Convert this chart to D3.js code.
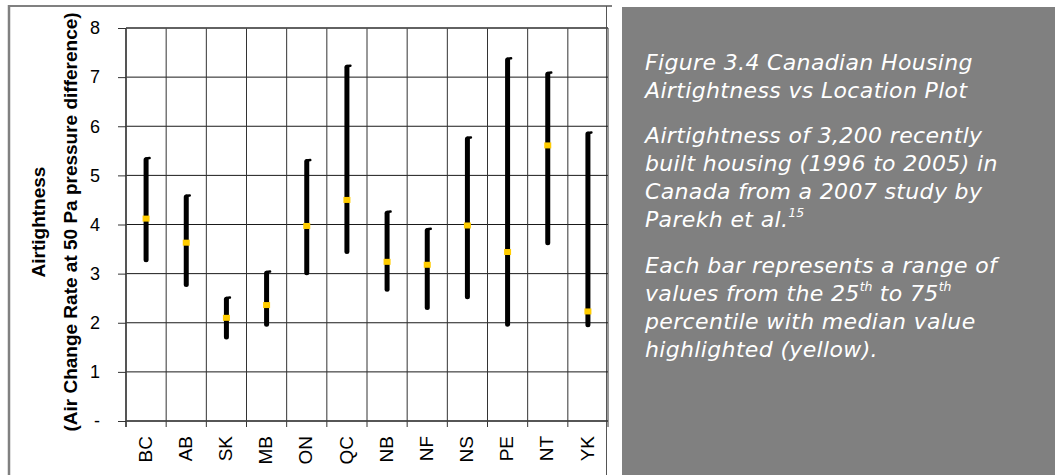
<!DOCTYPE html>
<html>
<head>
<meta charset="utf-8">
<script src="https://cdn.jsdelivr.net/npm/d3@7"></script>
<style>
  html, body { margin: 0; padding: 0; background: #ffffff; }
  svg { display: block; }
</style>
</head>
<body>
<svg id="chart" width="1055" height="475"></svg>
<script>
// ---- data ----
const categories = ["BC", "AB", "SK", "MB", "ON", "QC", "NB", "NF", "NS", "PE", "NT", "YK"];
const p25 =    [3.28, 2.78, 1.71, 1.97, 3.02, 3.45, 2.68, 2.31, 2.53, 1.97, 3.63, 1.96];
const p75 =    [5.32, 4.56, 2.48, 3.01, 5.28, 7.20, 4.23, 3.88, 5.74, 7.35, 7.06, 5.84];
const medians = [4.12, 3.63, 2.10, 2.36, 3.97, 4.50, 3.24, 3.18, 3.98, 3.44, 5.61, 2.23];
const yTicks = [0, 1, 2, 3, 4, 5, 6, 7, 8];
const yTickLabels = ["-", "1", "2", "3", "4", "5", "6", "7", "8"];
const yTitle = ["Airtightness", "(Air Change Rate at 50 Pa pressure difference)"];
const captionParagraphs = [
  [["Figure 3.4 Canadian Housing"], ["Airtightness vs Location Plot"]],
  [["Airtightness of 3,200 recently"], ["built housing (1996 to 2005) in"], ["Canada from a 2007 study by"], ["Parekh et al.", "15"]],
  [["Each bar represents a range of"], ["values from the 25", "th", " to 75", "th"], ["percentile with median value"], ["highlighted (yellow)."]]
];

// ---- layout ----
const svg = d3.select("#chart");
const plot = { left: 126, right: 608, top: 28, bottom: 421 };

const x = d3.scaleBand().domain(categories).range([plot.left, plot.right]).padding(0);
const y = d3.scaleLinear().domain([0, 8]).range([plot.bottom, plot.top]);

// outer chart frame
svg.append("line").attr("x1", 9).attr("x2", 9).attr("y1", 5).attr("y2", 475)
  .attr("stroke", "#808080").attr("stroke-width", 2.5);
svg.append("line").attr("x1", 8).attr("x2", 612).attr("y1", 6).attr("y2", 6)
  .attr("stroke", "#808080").attr("stroke-width", 2);
svg.append("line").attr("x1", 606.5).attr("x2", 606.5).attr("y1", 6).attr("y2", 475)
  .attr("stroke", "#555555").attr("stroke-width", 1);

// right grey panel
svg.append("rect").attr("x", 622).attr("y", 7).attr("width", 1055 - 622).attr("height", 475 - 7)
  .attr("fill", "#808080");

// horizontal gridlines
svg.append("g").selectAll("line").data(yTicks).join("line")
  .attr("x1", plot.left).attr("x2", plot.right)
  .attr("y1", d => y(d)).attr("y2", d => y(d))
  .attr("stroke", "#1a1a1a").attr("stroke-width", 1);

// vertical gridlines at category boundaries
const bounds = categories.map(c => x(c)).concat([plot.right]);
svg.append("g").selectAll("line").data(bounds).join("line")
  .attr("x1", d => d).attr("x2", d => d)
  .attr("y1", plot.top).attr("y2", plot.bottom)
  .attr("stroke", "#333333").attr("stroke-width", 1);

// x-axis tick marks below the axis
svg.append("g").selectAll("line").data(bounds).join("line")
  .attr("x1", d => d).attr("x2", d => d)
  .attr("y1", plot.bottom).attr("y2", plot.bottom + 6)
  .attr("stroke", "#333333").attr("stroke-width", 1);

// axis frame lines
svg.append("line").attr("x1", plot.left).attr("x2", plot.right).attr("y1", plot.bottom).attr("y2", plot.bottom)
  .attr("stroke", "#444").attr("stroke-width", 1.6);
svg.append("line").attr("x1", plot.left).attr("x2", plot.right).attr("y1", plot.top).attr("y2", plot.top)
  .attr("stroke", "#555").attr("stroke-width", 1.6);
svg.append("line").attr("x1", plot.left).attr("x2", plot.left).attr("y1", plot.top).attr("y2", plot.bottom + 6)
  .attr("stroke", "#444").attr("stroke-width", 1.6);

// y axis
const yAxis = d3.axisLeft(y)
  .tickValues(yTicks)
  .tickFormat((d, i) => yTickLabels[i])
  .tickSize(8)
  .tickPadding(18);
const gy = svg.append("g").attr("transform", `translate(${plot.left},0)`).call(yAxis);
gy.select(".domain").remove();
gy.selectAll(".tick line").attr("stroke", "#333").attr("stroke-width", 1);
gy.selectAll(".tick text")
  .attr("font-family", "'Liberation Sans', Arial, sans-serif")
  .attr("font-size", 18).attr("fill", "#000");

// x labels (rotated)
svg.append("g").selectAll("text").data(categories).join("text")
  .attr("transform", d => `translate(${x(d) + x.bandwidth() / 2 - 1},436) rotate(-90)`)
  .attr("text-anchor", "end")
  .attr("dy", "0.35em")
  .attr("font-family", "'Liberation Sans', Arial, sans-serif")
  .attr("font-size", 19).attr("fill", "#000")
  .text(d => d);

// y title
const titleX = [38, 70];
yTitle.forEach((t, i) => {
  svg.append("text")
    .attr("transform", `translate(${titleX[i]},222) rotate(-90)`)
    .attr("text-anchor", "middle")
    .attr("dy", "0.35em")
    .attr("font-family", "'Liberation Sans', Arial, sans-serif")
    .attr("font-weight", "bold")
    .attr("font-size", 19).attr("fill", "#000")
    .text(t);
});

// bars
const rows = categories.map((c, i) => ({ c, lo: p25[i], hi: p75[i], med: medians[i] }));
const cx = d => x(d.c) + x.bandwidth() / 2;
const gBars = svg.append("g");
gBars.selectAll("line.bar").data(rows).join("line").attr("class", "bar")
  .attr("x1", cx).attr("x2", cx)
  .attr("y1", d => y(d.lo)).attr("y2", d => y(d.hi))
  .attr("stroke", "#000").attr("stroke-width", 5).attr("stroke-linecap", "round");
gBars.selectAll("line.hook").data(rows).join("line").attr("class", "hook")
  .attr("x1", cx).attr("x2", d => cx(d) + 3.5)
  .attr("y1", d => y(d.hi) - 1.2).attr("y2", d => y(d.hi) - 1.6)
  .attr("stroke", "#000").attr("stroke-width", 2.5).attr("stroke-linecap", "round");
gBars.selectAll("rect.med").data(rows).join("rect").attr("class", "med")
  .attr("x", d => cx(d) - 3.5).attr("y", d => y(d.med) - 3)
  .attr("width", 7).attr("height", 6)
  .attr("fill", "#FFCC00");

// caption text in the grey panel
const textX = 645;
const lineH = 28;
const paraStarts = [70, 143, 273];
const capFs = 22, supFs = 12.5, capLs = 0.35;
const cap = svg.append("g")
  .attr("font-family", "'DejaVu Sans', sans-serif")
  .attr("font-style", "italic")
  .attr("font-size", capFs)
  .attr("fill", "#ffffff");
captionParagraphs.forEach((para, pi) => {
  para.forEach((parts, li) => {
    const t = cap.append("text").attr("x", textX).attr("y", paraStarts[pi] + li * lineH);
    parts.forEach((p, k) => {
      const isSup = (k % 2 === 1);
      t.append("tspan")
        .attr("font-size", isSup ? supFs : capFs)
        .attr("letter-spacing", isSup ? 0 : capLs)
        .attr("baseline-shift", isSup ? "75%" : null)
        .text(p);
    });
  });
});
</script>
</body>
</html>
